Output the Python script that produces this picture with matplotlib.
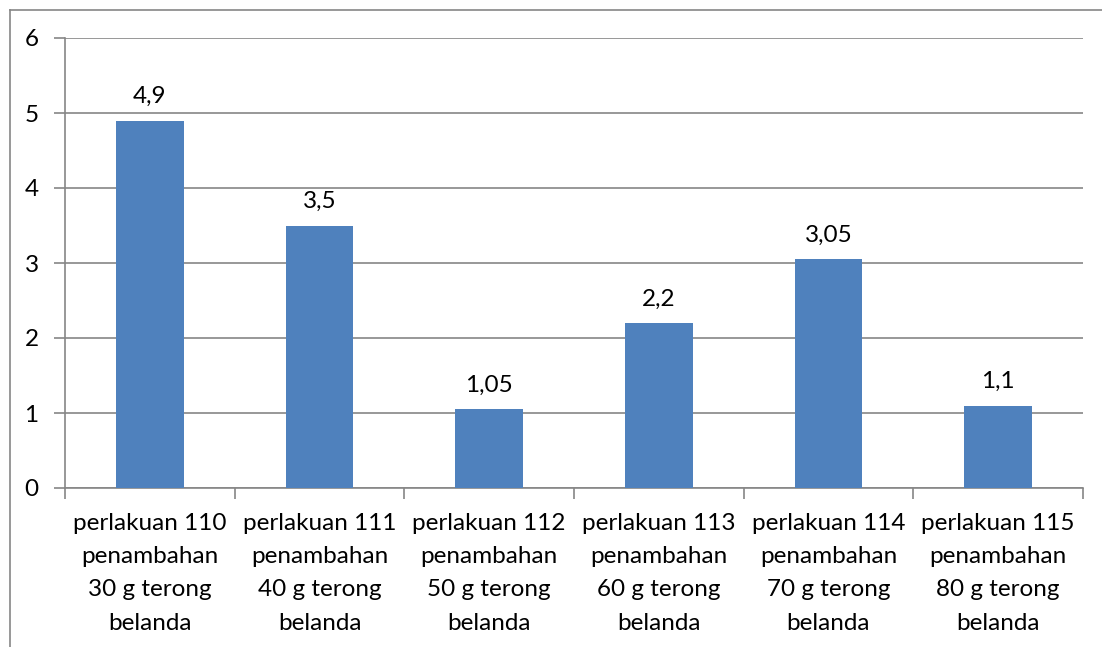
import matplotlib.pyplot as plt
from matplotlib.lines import Line2D

plt.rcParams['font.family'] = ['Lato', 'DejaVu Sans']

categories = [
    "perlakuan 110\npenambahan\n30 g terong\nbelanda",
    "perlakuan 111\npenambahan\n40 g terong\nbelanda",
    "perlakuan 112\npenambahan\n50 g terong\nbelanda",
    "perlakuan 113\npenambahan\n60 g terong\nbelanda",
    "perlakuan 114\npenambahan\n70 g terong\nbelanda",
    "perlakuan 115\npenambahan\n80 g terong\nbelanda",
]
values = [4.9, 3.5, 1.05, 2.2, 3.05, 1.1]
value_labels = ["4,9", "3,5", "1,05", "2,2", "3,05", "1,1"]

W, H = 1102, 647
fig = plt.figure(figsize=(W / 100, H / 100), dpi=100)
ax = fig.add_axes([65 / W, 1 - 488 / H, (1083 - 65) / W, (488 - 38) / H])

x = list(range(len(values)))
ax.bar(x, values, width=0.4, color="#4F81BD", zorder=3)
for xi, v, lab in zip(x, values, value_labels):
    ax.text(xi, v + 0.18, lab, ha="center", va="bottom", fontsize=17.5, color="black")

ax.set_xlim(-0.5, len(values) - 0.5)
ax.set_ylim(0, 6)
ax.set_yticks(range(7))
ax.yaxis.grid(True, color="#868686", linewidth=1.2, zorder=0)
ax.tick_params(axis="y", length=8, width=1.2, color="#868686", labelsize=17.5, pad=11)

# category boundaries get the tick marks, labels sit in the middle
ax.set_xticks([i - 0.5 for i in range(len(values) + 1)])
ax.set_xticklabels([])
ax.set_xticks(x, minor=True)
ax.set_xticklabels(categories, minor=True, fontsize=17.5, linespacing=1.72)
ax.tick_params(axis="x", which="major", length=8, width=1.2, color="#868686")
ax.tick_params(axis="x", which="minor", length=0, pad=18)

for side in ["top", "right"]:
    ax.spines[side].set_visible(False)
for side in ["left", "bottom"]:
    ax.spines[side].set_color("#868686")
    ax.spines[side].set_linewidth(1.2)

# outer chart frame
fx, fy = 9.5 / W, 1 - 9.5 / H
fig.add_artist(Line2D([fx, 1], [fy, fy], color="#868686", linewidth=1.2))
fig.add_artist(Line2D([fx, fx], [0, fy], color="#868686", linewidth=1.2))

fig.savefig("out.png", dpi=100)
